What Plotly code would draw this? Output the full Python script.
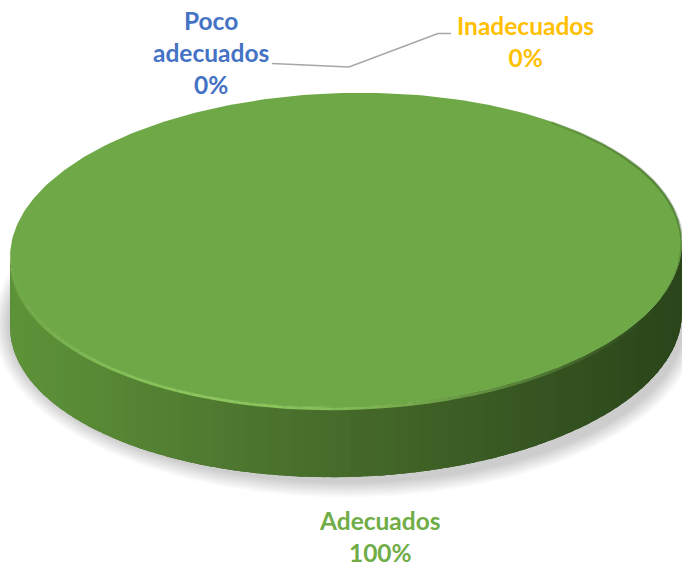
import numpy as np
import plotly.graph_objects as go

# Survey result shares
categories = ["Poco adecuados", "Inadecuados", "Adecuados"]
values = [0, 0, 100]
label_colors = ["#4472C4", "#FFC000", "#70AD47"]

W, H = 682, 568
# Disc geometry (pixel space)
cx, cy = 346, 250
rx, ry = 336, 157
depth = 70
tilt = np.deg2rad(-1.5)

top_color = "#6EA847"


def ell(t, dy=0.0):
    x = rx * np.cos(t)
    y = ry * np.sin(t)
    xr = x * np.cos(tilt) - y * np.sin(tilt)
    yr = x * np.sin(tilt) + y * np.cos(tilt)
    return cx + xr, cy + yr + dy


def mix(c1, c2, f):
    a = np.array([int(c1[i:i + 2], 16) for i in (1, 3, 5)], float)
    b = np.array([int(c2[i:i + 2], 16) for i in (1, 3, 5)], float)
    c = a + (b - a) * f
    return "rgb(%d,%d,%d)" % tuple(c.round())


def side_color(f):
    if f < 0.5:
        return mix("#5E9339", "#45692A", f / 0.5)
    return mix("#45692A", "#2A451A", (f - 0.5) / 0.5)


fig = go.Figure()

# soft drop shadow under the disc
for k in range(10):
    grow = 2 + k * 1.6
    t = np.linspace(0, 2 * np.pi, 200)
    x = cx + (rx + grow) * np.cos(t)
    y = cy + depth + 4 + (ry + grow) * np.sin(t)
    fig.add_trace(go.Scatter(x=x, y=y, mode="lines", fill="toself",
                             fillcolor="rgba(0,0,0,0.018)", line=dict(width=0),
                             hoverinfo="skip", showlegend=False))

total = sum(values)
start = -np.pi / 2
for cat, v in zip(categories, values):
    if v <= 0:
        continue
    span = 2 * np.pi * v / total
    a0, a1 = start, start + span
    start = a1

    # side wall: visible front half
    lo, hi = max(a0, 0.0), min(a1, np.pi)
    if a1 - a0 >= 2 * np.pi - 1e-9:
        lo, hi = 0.0, np.pi
    tt = np.linspace(lo, hi, 200)
    xt, yt = ell(tt)
    xb, yb = ell(tt[::-1], depth)
    fig.add_trace(go.Scatter(x=np.r_[xt, xb], y=np.r_[yt, yb], mode="lines",
                             fill="toself", fillcolor="#45692A", line=dict(width=0),
                             hoverinfo="skip", showlegend=False))
    # shaded strips over it, each overlapping its neighbour
    n = 90
    ts = np.linspace(lo, hi, n + 1)
    xl, xr_ = cx - rx, cx + rx
    step = ts[1] - ts[0]
    for i in range(n):
        tt = np.linspace(ts[i], min(ts[i + 1] + step * 0.6, hi), 4)
        xt, yt = ell(tt)
        xb, yb = ell(tt[::-1], depth)
        xm = (xt.mean() - xl) / (xr_ - xl)
        col = side_color(xm)
        fig.add_trace(go.Scatter(x=np.r_[xt, xb], y=np.r_[yt, yb], mode="lines",
                                 fill="toself", fillcolor=col, line=dict(width=0),
                                 hoverinfo="skip", showlegend=False))

    # top face
    tt = np.linspace(a0, a1, 361)
    xt, yt = ell(tt)
    if a1 - a0 < 2 * np.pi - 1e-9:
        xt, yt = np.r_[cx, xt, cx], np.r_[cy, yt, cy]
    fig.add_trace(go.Scatter(x=xt, y=yt, mode="lines", fill="toself",
                             fillcolor=top_color, line=dict(width=0),
                             hoverinfo="skip", showlegend=False))

# bevel highlight along the front rim
m = 60
ts = np.linspace(0.15, np.pi - 0.05, m + 1)
for i in range(m):
    tt = np.linspace(ts[i], ts[i + 1], 3)
    x, y = ell(tt, 1.5)
    mid = (ts[i] + ts[i + 1]) / 2
    a = max(0.0, np.sin(mid - 0.35)) ** 2 * 0.85
    fig.add_trace(go.Scatter(x=x, y=y, mode="lines",
                             line=dict(width=3, color="rgba(150,212,100,%.2f)" % a),
                             hoverinfo="skip", showlegend=False))
# darker edge on the right rim
ts = np.linspace(-0.9, 0.35, 30)
for i in range(29):
    tt = np.linspace(ts[i], ts[i + 1], 3)
    x, y = ell(tt, 1)
    a = 0.35 * np.cos((ts[i] + 0.3) * 1.4) ** 2
    fig.add_trace(go.Scatter(x=x, y=y, mode="lines",
                             line=dict(width=3, color="rgba(40,70,25,%.2f)" % a),
                             hoverinfo="skip", showlegend=False))

# leader line
fig.add_trace(go.Scatter(x=[272, 349, 438, 451], y=[63.5, 67, 33.5, 33.5], mode="lines",
                         line=dict(color="#A6A6A6", width=1.5),
                         hoverinfo="skip", showlegend=False))

label_pos = {"Poco adecuados": (211, 52), "Inadecuados": (525, 41), "Adecuados": (380, 536)}
label_text = {"Poco adecuados": "Poco<br>adecuados", "Inadecuados": "Inadecuados",
              "Adecuados": "Adecuados"}
for cat, v, c in zip(categories, values, label_colors):
    x, y = label_pos[cat]
    fig.add_annotation(x=x, y=y, xref="x", yref="y", showarrow=False,
                       text="<b>%s<br>%d%%</b>" % (label_text[cat], round(100 * v / total)),
                       font=dict(family="Lato", size=24.5, color=c),
                       align="center", xanchor="center", yanchor="middle")

fig.update_layout(
    width=W, height=H, margin=dict(l=0, r=0, t=0, b=0),
    paper_bgcolor="white", plot_bgcolor="white",
    xaxis=dict(range=[0, W], visible=False, fixedrange=True),
    yaxis=dict(range=[H, 0], visible=False, fixedrange=True),
    showlegend=False,
)
fig.write_html("out.html")
